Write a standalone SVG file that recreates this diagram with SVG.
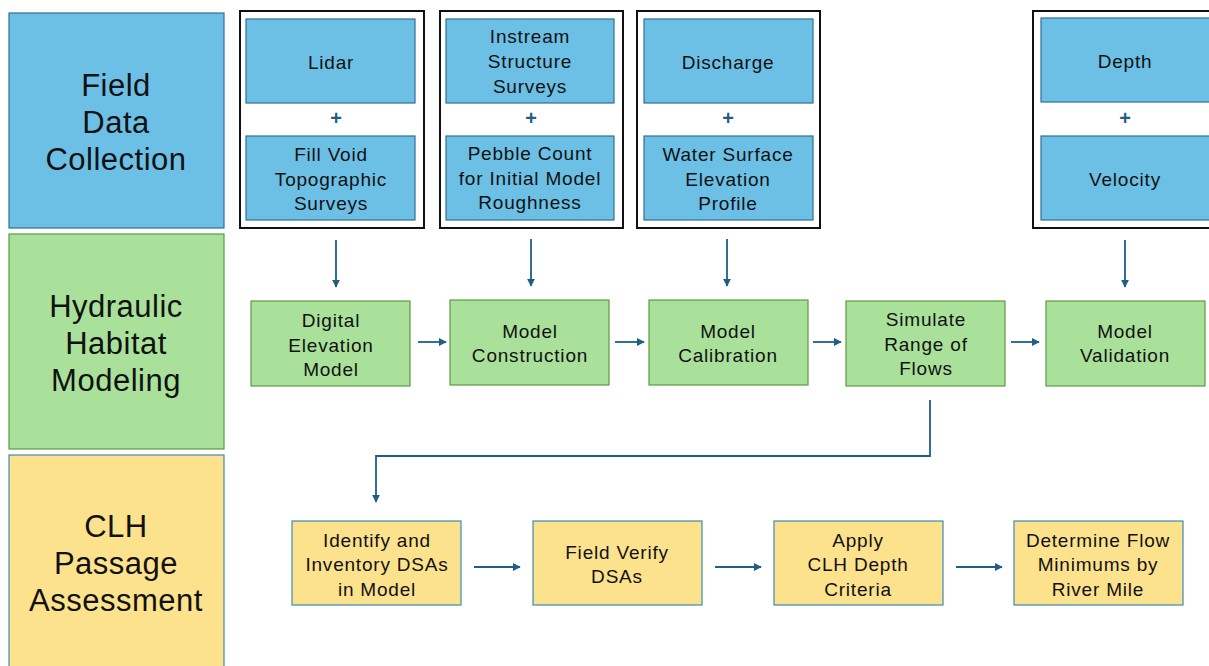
<svg xmlns="http://www.w3.org/2000/svg" width="1209" height="666" viewBox="0 0 1209 666">
  <style>
    text { font-family: "Liberation Sans", Arial, sans-serif; fill: #111; text-anchor: middle; dominant-baseline: central; }
    .big { font-size: 31px; letter-spacing: 0.5px; }
    .lbl { font-size: 19px; letter-spacing: 0.8px; }
    .plus { font-size: 20px; font-weight: bold; fill: #1f5f85; }
    .blue { fill: #6cc0e6; stroke: #2f6f92; stroke-width: 1.2; }
    .green { fill: #a9e19b; stroke: #5e9a45; stroke-width: 1.2; }
    .yellow { fill: #fde28e; stroke: #3a8db6; stroke-width: 1.2; }
    .frame { fill: #fff; stroke: #111; stroke-width: 2; }
    .conn { fill: none; stroke: #1f5f85; stroke-width: 1.8; }
  </style>
  <defs>
    <marker id="arrow" viewBox="0 0 10 10" refX="9" refY="5" markerWidth="4.5" markerHeight="4.5" orient="auto">
      <path d="M0,0 L10,5 L0,10 z" fill="#1f5f85"/>
    </marker>
  </defs>

  <!-- Stage labels -->
  <g id="stage-field">
    <rect class="blue" x="9" y="13" width="215" height="215"/>
    <text class="big" x="116" y="85">Field</text>
    <text class="big" x="116" y="122">Data</text>
    <text class="big" x="116" y="159">Collection</text>
  </g>
  <g id="stage-hydraulic">
    <rect class="green" x="9" y="234" width="215" height="215"/>
    <text class="big" x="116" y="306">Hydraulic</text>
    <text class="big" x="116" y="343">Habitat</text>
    <text class="big" x="116" y="380">Modeling</text>
  </g>
  <g id="stage-clh">
    <rect class="yellow" x="9" y="455" width="215" height="220"/>
    <text class="big" x="116" y="526">CLH</text>
    <text class="big" x="116" y="563">Passage</text>
    <text class="big" x="116" y="600">Assessment</text>
  </g>

  <!-- Field data groups -->
  <g id="group-topo">
    <rect class="frame" x="240" y="11" width="184" height="217"/>
    <rect class="blue" x="246" y="19" width="169" height="84"/>
    <text class="lbl" x="331" y="62">Lidar</text>
    <text class="plus" x="336" y="118">+</text>
    <rect class="blue" x="246" y="136" width="169" height="84"/>
    <text class="lbl" x="331" y="154">Fill Void</text>
    <text class="lbl" x="331" y="179">Topographic</text>
    <text class="lbl" x="331" y="203">Surveys</text>
  </g>
  <g id="group-structure">
    <rect class="frame" x="440" y="11" width="183" height="217"/>
    <rect class="blue" x="446" y="19" width="168" height="84"/>
    <text class="lbl" x="530" y="36">Instream</text>
    <text class="lbl" x="530" y="61">Structure</text>
    <text class="lbl" x="530" y="86">Surveys</text>
    <text class="plus" x="531" y="118">+</text>
    <rect class="blue" x="446" y="136" width="168" height="84"/>
    <text class="lbl" x="530" y="153">Pebble Count</text>
    <text class="lbl" x="530" y="178">for Initial Model</text>
    <text class="lbl" x="530" y="202">Roughness</text>
  </g>
  <g id="group-hydro">
    <rect class="frame" x="637" y="11" width="183" height="217"/>
    <rect class="blue" x="644" y="19" width="169" height="84"/>
    <text class="lbl" x="728" y="62">Discharge</text>
    <text class="plus" x="728" y="118">+</text>
    <rect class="blue" x="644" y="136" width="169" height="84"/>
    <text class="lbl" x="728" y="154">Water Surface</text>
    <text class="lbl" x="728" y="179">Elevation</text>
    <text class="lbl" x="728" y="203">Profile</text>
  </g>
  <g id="group-validation-data">
    <rect class="frame" x="1033" y="11" width="190" height="217"/>
    <rect class="blue" x="1041" y="18" width="180" height="84"/>
    <text class="lbl" x="1125" y="61">Depth</text>
    <text class="plus" x="1125" y="118">+</text>
    <rect class="blue" x="1041" y="136" width="180" height="84"/>
    <text class="lbl" x="1125" y="179">Velocity</text>
  </g>

  <!-- Modeling steps -->
  <g id="node-dem">
    <rect class="green" x="251" y="301" width="159" height="85"/>
    <text class="lbl" x="331" y="320">Digital</text>
    <text class="lbl" x="331" y="345">Elevation</text>
    <text class="lbl" x="331" y="369">Model</text>
  </g>
  <g id="node-construction">
    <rect class="green" x="450" y="300" width="159" height="85"/>
    <text class="lbl" x="530" y="331">Model</text>
    <text class="lbl" x="530" y="355">Construction</text>
  </g>
  <g id="node-calibration">
    <rect class="green" x="649" y="300" width="159" height="85"/>
    <text class="lbl" x="728" y="331">Model</text>
    <text class="lbl" x="728" y="355">Calibration</text>
  </g>
  <g id="node-simulate">
    <rect class="green" x="846" y="301" width="159" height="85"/>
    <text class="lbl" x="926" y="319">Simulate</text>
    <text class="lbl" x="926" y="344">Range of</text>
    <text class="lbl" x="926" y="368">Flows</text>
  </g>
  <g id="node-validation">
    <rect class="green" x="1046" y="301" width="159" height="85"/>
    <text class="lbl" x="1125" y="331">Model</text>
    <text class="lbl" x="1125" y="355">Validation</text>
  </g>

  <!-- Passage assessment steps -->
  <g id="node-identify">
    <rect class="yellow" x="292" y="521" width="169" height="84"/>
    <text class="lbl" x="377" y="540">Identify and</text>
    <text class="lbl" x="377" y="564">Inventory DSAs</text>
    <text class="lbl" x="377" y="589">in Model</text>
  </g>
  <g id="node-verify">
    <rect class="yellow" x="533" y="521" width="169" height="84"/>
    <text class="lbl" x="617" y="552">Field Verify</text>
    <text class="lbl" x="617" y="576">DSAs</text>
  </g>
  <g id="node-criteria">
    <rect class="yellow" x="774" y="521" width="169" height="84"/>
    <text class="lbl" x="858" y="540">Apply</text>
    <text class="lbl" x="858" y="564">CLH Depth</text>
    <text class="lbl" x="858" y="589">Criteria</text>
  </g>
  <g id="node-minimums">
    <rect class="yellow" x="1014" y="521" width="169" height="84"/>
    <text class="lbl" x="1098" y="540">Determine Flow</text>
    <text class="lbl" x="1098" y="564">Minimums by</text>
    <text class="lbl" x="1098" y="589">River Mile</text>
  </g>

  <!-- Connectors -->
  <g id="connectors">
    <line class="conn" x1="336" y1="240" x2="336" y2="287" marker-end="url(#arrow)"/>
    <line class="conn" x1="531" y1="239" x2="531" y2="286" marker-end="url(#arrow)"/>
    <line class="conn" x1="727" y1="239" x2="727" y2="286" marker-end="url(#arrow)"/>
    <line class="conn" x1="1125" y1="240" x2="1125" y2="287" marker-end="url(#arrow)"/>

    <line class="conn" x1="418" y1="342" x2="446" y2="342" marker-end="url(#arrow)"/>
    <line class="conn" x1="615" y1="342" x2="644" y2="342" marker-end="url(#arrow)"/>
    <line class="conn" x1="813" y1="342" x2="841" y2="342" marker-end="url(#arrow)"/>
    <line class="conn" x1="1011" y1="342" x2="1039" y2="342" marker-end="url(#arrow)"/>

    <polyline class="conn" points="930,400 930,456 376,456 376,502" marker-end="url(#arrow)"/>

    <line class="conn" x1="474" y1="567" x2="520" y2="567" marker-end="url(#arrow)"/>
    <line class="conn" x1="715" y1="567" x2="761" y2="567" marker-end="url(#arrow)"/>
    <line class="conn" x1="956" y1="567" x2="1002" y2="567" marker-end="url(#arrow)"/>
  </g>
</svg>
